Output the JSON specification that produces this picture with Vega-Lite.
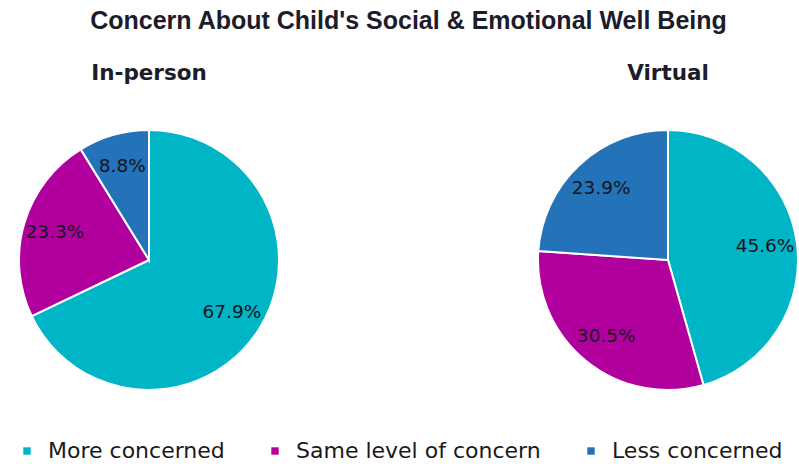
{
  "$schema": "https://vega.github.io/schema/vega-lite/v6.json",
  "padding": {"left": 9, "top": 8, "right": 0, "bottom": 0},
  "background": "white",
  "title": {
    "text": "Concern About Child's Social & Emotional Well Being",
    "font": "Liberation Sans",
    "fontSize": 25,
    "fontWeight": "bold",
    "color": "#1c1c2a",
    "anchor": "middle",
    "offset": 29
  },
  "data": {
    "values": [
      {"mode": "In-person", "category": "More concerned", "pct": 0.679, "rank": 1},
      {"mode": "In-person", "category": "Same level of concern", "pct": 0.233, "rank": 2},
      {"mode": "In-person", "category": "Less concerned", "pct": 0.088, "rank": 3},
      {"mode": "Virtual", "category": "More concerned", "pct": 0.456, "rank": 1},
      {"mode": "Virtual", "category": "Same level of concern", "pct": 0.305, "rank": 2},
      {"mode": "Virtual", "category": "Less concerned", "pct": 0.239, "rank": 3}
    ]
  },
  "spacing": 239,
  "hconcat": [
    {
      "title": {"text": "In-person"},
      "width": 280,
      "height": 300,
      "transform": [{"filter": "datum.mode === 'In-person'"}],
      "encoding": {
        "theta": {"field": "pct", "type": "quantitative", "stack": true},
        "order": {"field": "rank", "type": "quantitative"},
        "color": {"field": "category", "type": "nominal",
          "scale": {"domain": ["More concerned", "Same level of concern", "Less concerned"], "range": ["#00b5c5", "#b2009e", "#2473b8"]}}
      },
      "layer": [
        {"mark": {"type": "arc", "outerRadius": 130, "stroke": "white", "strokeWidth": 2}},
        {"mark": {"type": "text", "radius": 98, "font": "DejaVu Sans", "fontSize": 18.5, "fill": "#141420"},
         "encoding": {"text": {"field": "pct", "type": "quantitative", "format": ".1%"}, "color": {"value": "#141420"}}}
      ]
    },
    {
      "title": {"text": "Virtual"},
      "width": 280,
      "height": 300,
      "transform": [{"filter": "datum.mode === 'Virtual'"}],
      "encoding": {
        "theta": {"field": "pct", "type": "quantitative", "stack": true},
        "order": {"field": "rank", "type": "quantitative"},
        "color": {"field": "category", "type": "nominal",
          "scale": {"domain": ["More concerned", "Same level of concern", "Less concerned"], "range": ["#00b5c5", "#b2009e", "#2473b8"]}}
      },
      "layer": [
        {"mark": {"type": "arc", "outerRadius": 130, "stroke": "white", "strokeWidth": 2}},
        {"mark": {"type": "text", "radius": 98, "font": "DejaVu Sans", "fontSize": 18.5, "fill": "#141420"},
         "encoding": {"text": {"field": "pct", "type": "quantitative", "format": ".1%"}, "color": {"value": "#141420"}}}
      ]
    }
  ],
  "resolve": {"scale": {"color": "shared"}},
  "config": {
    "view": {"stroke": null},
    "title": {"font": "DejaVu Sans", "fontSize": 21.5, "fontWeight": "bold", "color": "#1c1c2a", "offset": 26},
    "legend": {
      "orient": "none",
      "legendX": 7,
      "legendY": 330,
      "direction": "horizontal",
      "title": null,
      "symbolType": "square",
      "symbolSize": 55,
      "symbolStrokeWidth": 0,
      "labelFont": "DejaVu Sans",
      "labelFontSize": 22,
      "labelColor": "#1a1a1a",
      "labelOffset": 10,
      "columnPadding": 39,
      "labelLimit": 400
    }
  }
}
